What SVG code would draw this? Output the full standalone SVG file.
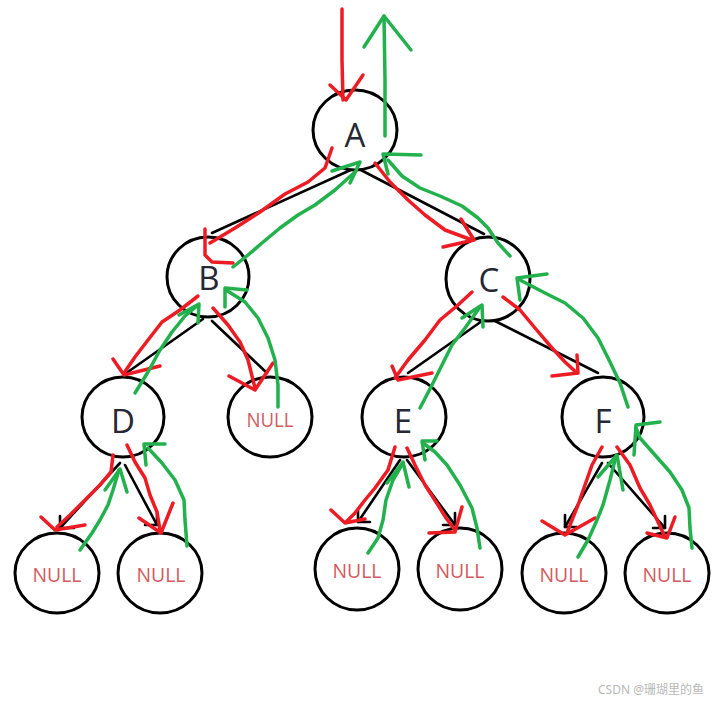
<svg xmlns="http://www.w3.org/2000/svg" width="722" height="703" viewBox="0 0 722 703">
<style>
.n ellipse{fill:#fff;stroke:#000;stroke-width:3}
.l{font-family:"Open Sans","Noto Sans",sans-serif;font-size:33px;fill:#262833;text-anchor:middle}
.nl{font-family:"Open Sans","Noto Sans",sans-serif;font-size:20px;fill:#d45a5e;text-anchor:middle}
.e{stroke:#000;stroke-width:2.6;fill:none;stroke-linecap:round;stroke-linejoin:round}
.r{stroke:#ed1c24;stroke-width:3.5;fill:none;stroke-linecap:round;stroke-linejoin:round}
.g{stroke:#22b14c;stroke-width:3.5;fill:none;stroke-linecap:round;stroke-linejoin:round}
.wm{font-family:"Noto Sans","Noto Sans CJK SC",sans-serif;font-size:12px;fill:#b8b8b8}
</style>
<rect width="722" height="703" fill="#fff"/>
<g id="edges">
<line class="e" x1="355" y1="168" x2="212" y2="233"/>
<line class="e" x1="357" y1="168" x2="484" y2="234"/>
<line class="e" x1="203" y1="319" x2="125" y2="374"/>
<line class="e" x1="212" y1="321" x2="267" y2="373"/>
<line class="e" x1="482" y1="321" x2="408" y2="373"/>
<line class="e" x1="493" y1="320" x2="598" y2="373"/>
<polyline class="e" points="120,463 60,528 74,528"/><line class="e" x1="60" y1="528" x2="60" y2="516"/>
<polyline class="e" points="125,465 157,525 145,525"/><line class="e" x1="157" y1="525" x2="157" y2="513"/>
<polyline class="e" points="400,460 358,522 370,522"/><line class="e" x1="358" y1="522" x2="358" y2="510"/>
<polyline class="e" points="407,460 455,525 443,525"/><line class="e" x1="455" y1="525" x2="455" y2="513"/>
<polyline class="e" points="602,463 565,527 577,527"/><line class="e" x1="565" y1="527" x2="565" y2="515"/>
<polyline class="e" points="608,463 665,528 653,528"/><line class="e" x1="665" y1="528" x2="665" y2="516"/>
</g>
<g id="nodeA" class="n"><ellipse cx="355" cy="130" rx="42" ry="40"/><text class="l" x="355" y="147">A</text></g>
<g id="nodeB" class="n"><ellipse cx="208" cy="277" rx="41" ry="40"/><text class="l" x="209" y="290">B</text></g>
<g id="nodeC" class="n"><ellipse cx="488" cy="279" rx="42" ry="42"/><text class="l" x="489" y="292">C</text></g>
<g id="nodeD" class="n"><ellipse cx="123" cy="417" rx="41" ry="40"/><text class="l" x="123" y="433">D</text></g>
<g id="nodeNB" class="n"><ellipse cx="270" cy="417" rx="42" ry="40"/><text class="nl" x="270" y="427" textLength="47" lengthAdjust="spacingAndGlyphs">NULL</text></g>
<g id="nodeE" class="n"><ellipse cx="404" cy="417" rx="42" ry="40"/><text class="l" x="403" y="433">E</text></g>
<g id="nodeF" class="n"><ellipse cx="603" cy="417" rx="41" ry="40"/><text class="l" x="603" y="433">F</text></g>
<g id="nodeND1" class="n"><ellipse cx="57" cy="573" rx="42" ry="40"/><text class="nl" x="57" y="582" textLength="49" lengthAdjust="spacingAndGlyphs">NULL</text></g>
<g id="nodeND2" class="n"><ellipse cx="160" cy="573" rx="42" ry="40"/><text class="nl" x="161" y="582" textLength="49" lengthAdjust="spacingAndGlyphs">NULL</text></g>
<g id="nodeNE1" class="n"><ellipse cx="357" cy="569" rx="42" ry="41"/><text class="nl" x="357" y="578" textLength="49" lengthAdjust="spacingAndGlyphs">NULL</text></g>
<g id="nodeNE2" class="n"><ellipse cx="460" cy="569" rx="42" ry="41"/><text class="nl" x="460" y="578" textLength="49" lengthAdjust="spacingAndGlyphs">NULL</text></g>
<g id="nodeNF1" class="n"><ellipse cx="564" cy="573" rx="42" ry="40"/><text class="nl" x="564" y="582" textLength="49" lengthAdjust="spacingAndGlyphs">NULL</text></g>
<g id="nodeNF2" class="n"><ellipse cx="667" cy="573" rx="42" ry="40"/><text class="nl" x="667" y="582" textLength="49" lengthAdjust="spacingAndGlyphs">NULL</text></g>
<g id="red">
<polyline class="r" points="342,9 342,60 343,100"/><polyline class="r" points="330,85 346,100 363,75"/>
<polyline class="r" points="332,148 325,168 308,182 285,194 260,212 235,228 210,243"/><polyline class="r" points="205,229 205,255 212,262 233,263"/>
<polyline class="r" points="375,163 390,182 408,200 425,215 445,230 472,240"/><polyline class="r" points="461,219 474,240 443,247"/>
<polyline class="r" points="198,296 180,310 162,322 148,340 135,357 124,373"/><polyline class="r" points="113,359 124,375 160,366"/>
<polyline class="r" points="213,308 228,325 240,342 248,360 255,388"/><polyline class="r" points="229,376 255,390 273,363"/>
<polyline class="r" points="472,292 458,305 440,320 425,340 408,360 395,378"/><polyline class="r" points="392,366 398,380 432,373"/>
<polyline class="r" points="503,297 520,310 535,328 552,348 565,362 577,373"/><polyline class="r" points="577,355 578,373 552,376"/>
<polyline class="r" points="113,455 111,472 100,485 85,500 70,515 57,527"/><polyline class="r" points="41,517 55,530 85,525"/>
<polyline class="r" points="127,445 135,462 145,478 150,495 157,512 160,530"/><polyline class="r" points="139,518 161,533 173,503"/>
<polyline class="r" points="395,447 388,470 375,488 365,500 355,513 346,522"/><polyline class="r" points="331,510 345,523 365,519"/>
<polyline class="r" points="407,448 415,465 425,485 438,505 446,518 455,530"/><polyline class="r" points="462,507 455,532 429,533"/>
<polyline class="r" points="602,447 592,465 585,485 578,505 572,520 567,533"/><polyline class="r" points="542,521 565,535 595,518"/>
<polyline class="r" points="617,447 630,465 640,488 650,505 658,522 665,537"/><polyline class="r" points="675,517 667,538 647,533"/>
</g>
<g id="green">
<polyline class="g" points="385,136 385,80 384,16"/><polyline class="g" points="364,47 384,16 411,50"/>
<polyline class="g" points="510,256 498,243 488,228 478,218 462,206 440,196 420,188 402,176 388,160"/><polyline class="g" points="421,155 383,154 388,174"/>
<polyline class="g" points="233,267 248,255 262,243 280,228 298,215 315,205 335,190 355,172"/><polyline class="g" points="332,171 360,162 350,183"/>
<polyline class="g" points="278,407 278,385 275,360 268,338 258,318 245,302 226,290"/><polyline class="g" points="247,290 225,288 225,307"/>
<polyline class="g" points="135,393 148,372 160,350 172,332 185,316 198,305"/><polyline class="g" points="179,315 199,304 198,323"/>
<polyline class="g" points="187,546 185,520 184,500 175,480 162,463 148,448"/><polyline class="g" points="165,444 144,444 146,465"/>
<polyline class="g" points="80,550 92,533 100,520 108,505 113,490 119,470"/><polyline class="g" points="105,490 120,469 127,492"/>
<polyline class="g" points="420,408 432,385 442,365 452,345 465,328 480,307"/><polyline class="g" points="462,318 482,305 483,327"/>
<polyline class="g" points="628,407 620,383 610,362 598,338 583,318 565,303 545,293 520,280"/><polyline class="g" points="547,274 517,278 520,300"/>
<polyline class="g" points="480,548 477,528 472,508 460,485 447,465 435,452 423,443"/><polyline class="g" points="437,441 422,441 425,460"/>
<polyline class="g" points="368,553 378,538 383,520 386,500 393,480 403,463"/><polyline class="g" points="387,483 403,462 409,487"/>
<polyline class="g" points="578,557 588,540 597,520 603,505 610,480 616,456"/><polyline class="g" points="598,477 617,455 623,490"/>
<polyline class="g" points="692,548 690,528 689,508 682,490 670,472 655,455 640,438 636,428"/><polyline class="g" points="660,422 636,425 634,455"/>
</g>
<text class="wm" x="598" y="694">CSDN @珊瑚里的鱼</text>
</svg>
